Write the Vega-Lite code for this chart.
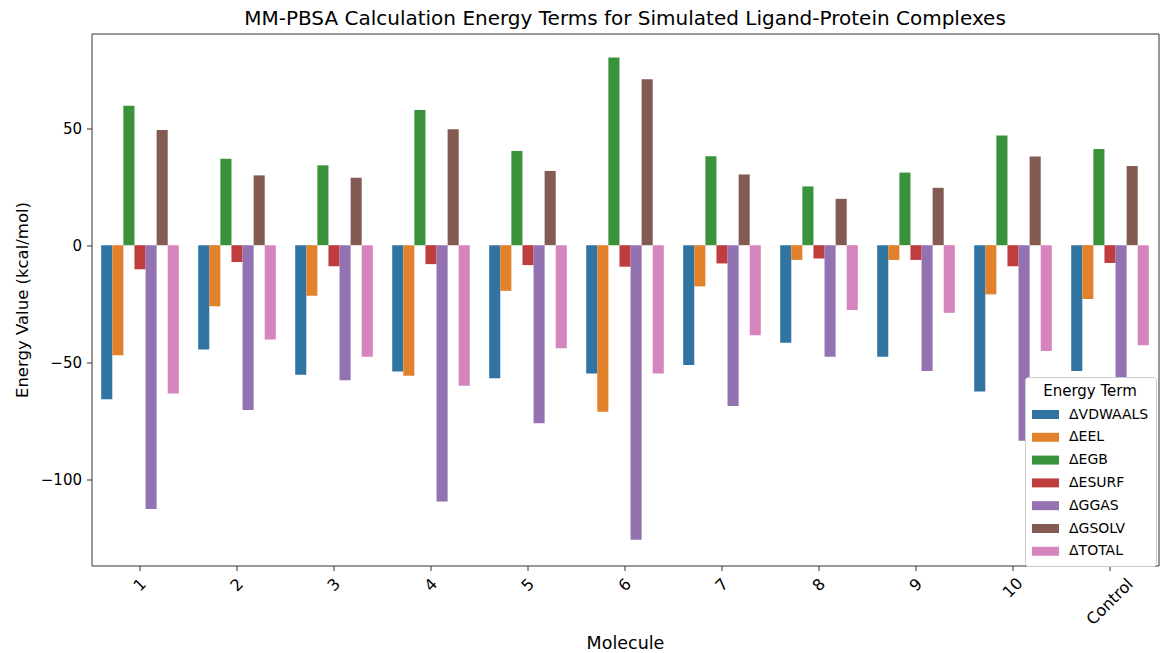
{
  "$schema": "https://vega.github.io/schema/vega-lite/v6.json",
  "autosize": {"type": "none"},
  "padding": {"left": 91.5, "top": 33.5, "right": 4.5, "bottom": 87.5},
  "width": 1067,
  "height": 532,
  "title": {
    "text": "MM-PBSA Calculation Energy Terms for Simulated Ligand-Protein Complexes",
    "font": "DejaVu Sans",
    "fontSize": 20,
    "fontWeight": "normal",
    "color": "#000000",
    "anchor": "middle",
    "offset": 5
  },
  "config": {
    "view": {"stroke": "#333333", "strokeWidth": 1},
    "font": "DejaVu Sans"
  },
  "data": {
    "values": [
      {"Molecule": "1", "Term": "ΔVDWAALS", "Value": -65.8},
      {"Molecule": "1", "Term": "ΔEEL", "Value": -47.0},
      {"Molecule": "1", "Term": "ΔEGB", "Value": 59.5},
      {"Molecule": "1", "Term": "ΔESURF", "Value": -10.3},
      {"Molecule": "1", "Term": "ΔGGAS", "Value": -112.7},
      {"Molecule": "1", "Term": "ΔGSOLV", "Value": 49.2},
      {"Molecule": "1", "Term": "ΔTOTAL", "Value": -63.3},
      {"Molecule": "2", "Term": "ΔVDWAALS", "Value": -44.5},
      {"Molecule": "2", "Term": "ΔEEL", "Value": -26.1},
      {"Molecule": "2", "Term": "ΔEGB", "Value": 36.9},
      {"Molecule": "2", "Term": "ΔESURF", "Value": -7.2},
      {"Molecule": "2", "Term": "ΔGGAS", "Value": -70.4},
      {"Molecule": "2", "Term": "ΔGSOLV", "Value": 29.8},
      {"Molecule": "2", "Term": "ΔTOTAL", "Value": -40.3},
      {"Molecule": "3", "Term": "ΔVDWAALS", "Value": -55.3},
      {"Molecule": "3", "Term": "ΔEEL", "Value": -21.6},
      {"Molecule": "3", "Term": "ΔEGB", "Value": 34.1},
      {"Molecule": "3", "Term": "ΔESURF", "Value": -9.0},
      {"Molecule": "3", "Term": "ΔGGAS", "Value": -57.7},
      {"Molecule": "3", "Term": "ΔGSOLV", "Value": 28.8},
      {"Molecule": "3", "Term": "ΔTOTAL", "Value": -47.7},
      {"Molecule": "4", "Term": "ΔVDWAALS", "Value": -54.0},
      {"Molecule": "4", "Term": "ΔEEL", "Value": -55.8},
      {"Molecule": "4", "Term": "ΔEGB", "Value": 57.7},
      {"Molecule": "4", "Term": "ΔESURF", "Value": -8.1},
      {"Molecule": "4", "Term": "ΔGGAS", "Value": -109.5},
      {"Molecule": "4", "Term": "ΔGSOLV", "Value": 49.5},
      {"Molecule": "4", "Term": "ΔTOTAL", "Value": -60.0},
      {"Molecule": "5", "Term": "ΔVDWAALS", "Value": -56.8},
      {"Molecule": "5", "Term": "ΔEEL", "Value": -19.5},
      {"Molecule": "5", "Term": "ΔEGB", "Value": 40.2},
      {"Molecule": "5", "Term": "ΔESURF", "Value": -8.5},
      {"Molecule": "5", "Term": "ΔGGAS", "Value": -76.0},
      {"Molecule": "5", "Term": "ΔGSOLV", "Value": 31.7},
      {"Molecule": "5", "Term": "ΔTOTAL", "Value": -44.0},
      {"Molecule": "6", "Term": "ΔVDWAALS", "Value": -54.8},
      {"Molecule": "6", "Term": "ΔEEL", "Value": -71.1},
      {"Molecule": "6", "Term": "ΔEGB", "Value": 80.2},
      {"Molecule": "6", "Term": "ΔESURF", "Value": -9.2},
      {"Molecule": "6", "Term": "ΔGGAS", "Value": -125.8},
      {"Molecule": "6", "Term": "ΔGSOLV", "Value": 70.9},
      {"Molecule": "6", "Term": "ΔTOTAL", "Value": -54.8},
      {"Molecule": "7", "Term": "ΔVDWAALS", "Value": -51.2},
      {"Molecule": "7", "Term": "ΔEEL", "Value": -17.6},
      {"Molecule": "7", "Term": "ΔEGB", "Value": 38.0},
      {"Molecule": "7", "Term": "ΔESURF", "Value": -7.8},
      {"Molecule": "7", "Term": "ΔGGAS", "Value": -68.7},
      {"Molecule": "7", "Term": "ΔGSOLV", "Value": 30.2},
      {"Molecule": "7", "Term": "ΔTOTAL", "Value": -38.5},
      {"Molecule": "8", "Term": "ΔVDWAALS", "Value": -41.7},
      {"Molecule": "8", "Term": "ΔEEL", "Value": -6.3},
      {"Molecule": "8", "Term": "ΔEGB", "Value": 25.1},
      {"Molecule": "8", "Term": "ΔESURF", "Value": -5.7},
      {"Molecule": "8", "Term": "ΔGGAS", "Value": -47.7},
      {"Molecule": "8", "Term": "ΔGSOLV", "Value": 19.8},
      {"Molecule": "8", "Term": "ΔTOTAL", "Value": -27.7},
      {"Molecule": "9", "Term": "ΔVDWAALS", "Value": -47.7},
      {"Molecule": "9", "Term": "ΔEEL", "Value": -6.3},
      {"Molecule": "9", "Term": "ΔEGB", "Value": 31.0},
      {"Molecule": "9", "Term": "ΔESURF", "Value": -6.3},
      {"Molecule": "9", "Term": "ΔGGAS", "Value": -53.7},
      {"Molecule": "9", "Term": "ΔGSOLV", "Value": 24.5},
      {"Molecule": "9", "Term": "ΔTOTAL", "Value": -28.9},
      {"Molecule": "10", "Term": "ΔVDWAALS", "Value": -62.5},
      {"Molecule": "10", "Term": "ΔEEL", "Value": -21.0},
      {"Molecule": "10", "Term": "ΔEGB", "Value": 46.8},
      {"Molecule": "10", "Term": "ΔESURF", "Value": -9.0},
      {"Molecule": "10", "Term": "ΔGGAS", "Value": -83.5},
      {"Molecule": "10", "Term": "ΔGSOLV", "Value": 37.9},
      {"Molecule": "10", "Term": "ΔTOTAL", "Value": -45.2},
      {"Molecule": "Control", "Term": "ΔVDWAALS", "Value": -53.7},
      {"Molecule": "Control", "Term": "ΔEEL", "Value": -23.0},
      {"Molecule": "Control", "Term": "ΔEGB", "Value": 41.1},
      {"Molecule": "Control", "Term": "ΔESURF", "Value": -7.6},
      {"Molecule": "Control", "Term": "ΔGGAS", "Value": -76.5},
      {"Molecule": "Control", "Term": "ΔGSOLV", "Value": 33.8},
      {"Molecule": "Control", "Term": "ΔTOTAL", "Value": -42.7}
    ]
  },
  "mark": {"type": "bar"},
  "encoding": {
    "x": {
      "field": "Molecule",
      "type": "nominal",
      "sort": ["1", "2", "3", "4", "5", "6", "7", "8", "9", "10", "Control"],
      "scale": {"paddingInner": 0.2, "paddingOuter": 0.1},
      "axis": {
        "title": "Molecule",
        "titleFont": "DejaVu Sans",
        "titleFontSize": 17.5,
        "titleFontWeight": "normal",
        "titleColor": "#000000",
        "titlePadding": 7,
        "labelAngle": -45,
        "labelAlign": "center",
        "labelBaseline": "middle",
        "labelFont": "DejaVu Sans",
        "labelFontSize": 16,
        "labelColor": "#000000",
        "labelPadding": {"condition": [{"test": "datum.label == 'Control'", "value": 31}, {"test": "datum.label == '10'", "value": 17}], "value": 14},
        "labelOverlap": false,
        "labelBound": false,
        "domain": false,
        "ticks": true,
        "tickSize": 5,
        "tickColor": "#333333",
        "grid": false
      }
    },
    "xOffset": {
      "field": "Term",
      "type": "nominal",
      "sort": ["ΔVDWAALS", "ΔEEL", "ΔEGB", "ΔESURF", "ΔGGAS", "ΔGSOLV", "ΔTOTAL"],
      "scale": {"paddingInner": 0, "paddingOuter": 0}
    },
    "y": {
      "field": "Value",
      "type": "quantitative",
      "scale": {"domain": [-136.8, 90.4], "nice": false, "zero": false},
      "axis": {
        "title": "Energy Value (kcal/mol)",
        "titleFont": "DejaVu Sans",
        "titleFontSize": 16.5,
        "titleFontWeight": "normal",
        "titleColor": "#000000",
        "titlePadding": 10,
        "values": [-100, -50, 0, 50],
        "labelExpr": "replace(datum.label, '-', '−')",
        "labelFont": "DejaVu Sans",
        "labelFontSize": 15,
        "labelColor": "#000000",
        "labelPadding": 5,
        "domain": false,
        "tickSize": 5,
        "tickColor": "#333333",
        "grid": false
      }
    },
    "color": {
      "field": "Term",
      "type": "nominal",
      "sort": ["ΔVDWAALS", "ΔEEL", "ΔEGB", "ΔESURF", "ΔGGAS", "ΔGSOLV", "ΔTOTAL"],
      "scale": {
        "domain": ["ΔVDWAALS", "ΔEEL", "ΔEGB", "ΔESURF", "ΔGGAS", "ΔGSOLV", "ΔTOTAL"],
        "range": ["#3274a1", "#e1812c", "#3a923a", "#c03d3e", "#9372b2", "#845b53", "#d684bd"]
      },
      "legend": {
        "title": "Energy Term",
        "orient": "none",
        "legendX": 933.5,
        "legendY": 343.5,
        "titleFont": "DejaVu Sans",
        "titleFontSize": 15,
        "titleFontWeight": "normal",
        "titleColor": "#000000",
        "titleAnchor": "middle",
        "titlePadding": 2,
        "labelFont": "DejaVu Sans",
        "labelFontSize": 14,
        "labelColor": "#000000",
        "labelOffset": 10,
        "symbolType": "M-1,-0.333H1V0.333H-1Z",
        "symbolSize": 729,
        "symbolStrokeWidth": 0,
        "symbolOpacity": 1,
        "rowPadding": 1.8,
        "padding": 7,
        "fillColor": "#ffffff",
        "strokeColor": "#cccccc",
        "cornerRadius": 3
      }
    }
  }
}
